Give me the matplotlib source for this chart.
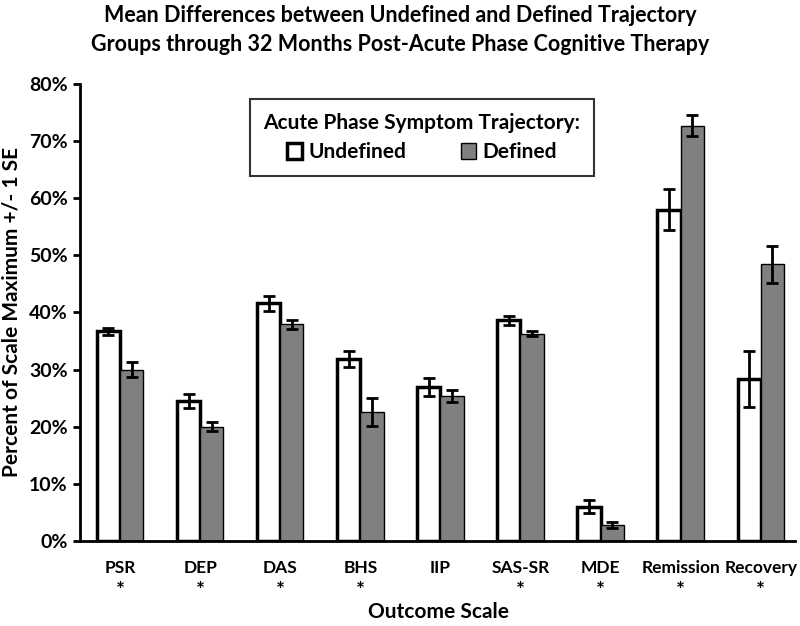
import matplotlib
matplotlib.use('Agg')
import matplotlib.pyplot as plt
import matplotlib.transforms as mtransforms
import numpy as np
from matplotlib.patches import Patch

# Data (percent of scale maximum)
scales = ['PSR', 'DEP', 'DAS', 'BHS', 'IIP', 'SAS-SR', 'MDE', 'Remission', 'Recovery']
significant = [True, True, True, True, False, True, True, True, True]
undefined_mean = [36.7, 24.5, 41.6, 31.9, 26.9, 38.6, 6.0, 58.0, 28.4]
undefined_se = [0.6, 1.2, 1.35, 1.4, 1.6, 0.85, 1.1, 3.55, 4.9]
defined_mean = [30.0, 20.0, 37.9, 22.6, 25.35, 36.3, 2.8, 72.7, 48.4]
defined_se = [1.35, 0.75, 0.8, 2.4, 1.0, 0.5, 0.5, 1.85, 3.3]

plt.rcParams['font.family'] = ['Lato', 'DejaVu Sans']
plt.rcParams['font.weight'] = 'bold'

fig = plt.figure(figsize=(8.0, 6.26), dpi=100)
ax = fig.add_axes([0.1, 0.1358, 0.894, 0.7302])

x = np.arange(len(scales))
w = 0.29
err_kw = dict(ecolor='black', elinewidth=2, capsize=4, capthick=2)

ax.bar(x - w / 2, undefined_mean, w, yerr=undefined_se, color='white',
       edgecolor='black', linewidth=2.5, error_kw=err_kw, zorder=2)
ax.bar(x + w / 2, defined_mean, w, yerr=defined_se, color='#808080',
       edgecolor='black', linewidth=1, error_kw=err_kw, zorder=2)

ax.set_xlim(-0.5, 8.43)
ax.set_ylim(0, 80)
ax.set_yticks(range(0, 81, 10))
ax.set_yticklabels([f'{v}%' for v in range(0, 81, 10)])
ax.set_xticks(x)
ax.set_xticklabels(scales)
ax.tick_params(axis='x', length=0, pad=14, labelsize=12.5)
ax.tick_params(axis='y', direction='out', length=5, width=2, labelsize=14, pad=4)

# significance markers under the category labels
trans = mtransforms.blended_transform_factory(ax.transData, ax.transAxes)
for xi, sig in zip(x, significant):
    if sig:
        ax.text(xi, -0.087, '*', transform=trans, ha='center', va='top',
                fontsize=15, fontweight='bold')

for side in ['top', 'right']:
    ax.spines[side].set_visible(False)
for side in ['left', 'bottom']:
    ax.spines[side].set_linewidth(2)

ax.set_ylabel('Percent of Scale Maximum +/- 1 SE', fontsize=15, fontweight='bold', labelpad=5)
fig.text(0.5475, 0.022, 'Outcome Scale', ha='center', va='center',
         fontsize=15, fontweight='bold')

fig.text(0.5, 0.992, 'Mean Differences between Undefined and Defined Trajectory\n'
         'Groups through 32 Months Post-Acute Phase Cognitive Therapy',
         ha='center', va='top', fontsize=15.5, fontweight='bold', linespacing=1.45)

handles = [Patch(facecolor='white', edgecolor='black', linewidth=2.5, label='Undefined'),
           Patch(facecolor='#808080', edgecolor='black', linewidth=1, label='Defined')]
leg = ax.legend(handles=handles, ncol=2, title='Acute Phase Symptom Trajectory:',
                loc='upper center', bbox_to_anchor=(0.5275, 0.858),
                bbox_transform=fig.transFigure, fontsize=15, title_fontsize=15,
                handlelength=0.75, handleheight=0.75, handletextpad=0.3,
                columnspacing=2.6, frameon=True, fancybox=False,
                borderpad=0.65, labelspacing=0.45)
leg.get_frame().set_edgecolor('black')
leg.get_frame().set_linewidth(1.5)
leg.get_title().set_fontweight('bold')

plt.savefig('out.png', dpi=100, facecolor='white')
